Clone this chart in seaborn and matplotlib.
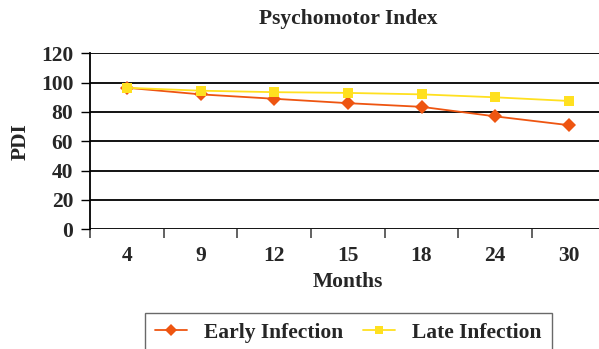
import numpy as np
import pandas as pd
import matplotlib
matplotlib.use("Agg")
import matplotlib.pyplot as plt
import seaborn as sns

# Psychomotor development index by age at assessment
months = ["4", "9", "12", "15", "18", "24", "30"]
early_infection = [96.5, 92, 89, 86, 83.5, 77, 71]
late_infection = [96.5, 94.5, 93.5, 93, 92, 90, 87.5]
series_names = ["Early Infection", "Late Infection"]
series_colors = {"Early Infection": "#EE5511", "Late Infection": "#FFE020"}
series_markers = {"Early Infection": "D", "Late Infection": "s"}

df = pd.DataFrame({
    "Months": months * 2,
    "PDI": early_infection + late_infection,
    "Series": [series_names[0]] * len(months) + [series_names[1]] * len(months),
})

sns.set_theme(style="white")
plt.rcParams["font.family"] = ["Liberation Serif", "DejaVu Serif"]
plt.rcParams["font.weight"] = "bold"

FS = 15.5
fig = plt.figure(figsize=(5.99, 3.49), dpi=100)
ax = fig.add_axes([90 / 599, 1 - 229.3 / 349, 515.7 / 599, 176 / 349])

sns.lineplot(data=df, x="Months", y="PDI", hue="Series", style="Series",
             palette=series_colors, markers=series_markers, dashes=False,
             markersize=7, markeredgewidth=0, linewidth=1.3, sort=False,
             legend=False, ax=ax, zorder=3)

ax.set_ylim(0, 120)
ax.set_xlim(-0.5, len(months) - 0.5)
ax.set_yticks(np.arange(0, 121, 20))
ax.yaxis.grid(True, color="black", linewidth=1.3)
ax.set_axisbelow(True)

# category labels centred, tick marks on category boundaries
ax.set_xticks(np.arange(len(months)), labels=months)
ax.set_xticks(np.arange(-0.5, len(months)), minor=True)
ax.tick_params(axis="x", which="major", length=0, pad=12, labelsize=FS)
ax.tick_params(axis="x", which="minor", length=6.5, width=1.3,
               color="#555555", direction="out", bottom=True)
ax.tick_params(axis="y", length=6.5, width=1.0, color="black",
               direction="out", left=True, pad=5.5, labelsize=FS)
for lbl in ax.get_xticklabels() + ax.get_yticklabels():
    lbl.set_fontweight("bold")

for side in ["top", "right", "bottom"]:
    ax.spines[side].set_visible(False)
ax.spines["left"].set_color("black")
ax.spines["left"].set_linewidth(1.3)

ax.set_xlabel("Months", fontsize=FS, fontweight="bold", labelpad=4)
ax.set_ylabel("PDI", fontsize=FS, fontweight="bold", labelpad=7.5)
ax.set_title("Psychomotor Index", fontsize=FS, fontweight="bold", pad=21)

handles = [
    plt.Line2D([], [], color=series_colors[n], marker=series_markers[n],
               markersize=6, markeredgewidth=0, linewidth=1.3)
    for n in series_names
]
leg = fig.legend(handles, series_names, loc="upper left",
                 bbox_to_anchor=(145 / 599, 1 - 313 / 349), ncol=2,
                 frameon=True, fancybox=False, edgecolor="#444444",
                 fontsize=FS, handlelength=1.5, handletextpad=0.8,
                 columnspacing=0.9, borderpad=0.45, borderaxespad=0)
leg.get_frame().set_linewidth(1.0)
for t in leg.get_texts():
    t.set_fontweight("bold")

fig.savefig("out.png", dpi=100)
